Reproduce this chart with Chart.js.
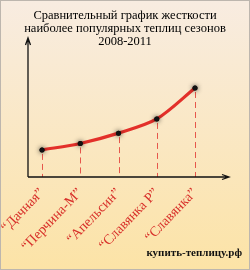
<!DOCTYPE html>
<html>
<head>
<meta charset="utf-8">
<script src="https://cdn.jsdelivr.net/npm/chart.js@4.4.0/dist/chart.umd.min.js"></script>
<style>
    html, body { margin: 0; padding: 0; background: #fff; }
    canvas { display: block; }
</style>
</head>
<body>
<canvas id="stiffness-chart" width="250" height="270"></canvas>
<script>
// --- DATA ---
const titleLines = ['Сравнительный график жесткости', 'наиболее популярных теплиц сезонов', '2008-2011'];
const categories = ['“Дачная”', '“Перчина-М”', '“Апельсин”', '“Славянка Р”', '“Славянка”'];
const stiffness = [21, 26, 34, 45, 69];
const watermark = 'купить-теплицу.рф';

const RED = '#e3302a';
const SERIF = "'Liberation Serif', serif";

// --- PLUGINS ---
const backdrop = {
    id: 'backdrop',
    beforeDraw(chart) {
        const { ctx, width, height } = chart;
        const g = ctx.createLinearGradient(0, 0, 0, height);
        g.addColorStop(0, '#f8ece1');
        g.addColorStop(1, '#fce3a6');
        ctx.save();
        ctx.fillStyle = g;
        ctx.fillRect(0, 0, width, height);
        ctx.strokeStyle = '#bdb6ae';
        ctx.lineWidth = 1;
        ctx.strokeRect(0.5, 0.5, width - 1, height - 1);
        ctx.restore();
    }
};

const dropLines = {
    id: 'dropLines',
    beforeDatasetsDraw(chart) {
        const { ctx, chartArea } = chart;
        const pts = chart.getDatasetMeta(0).data;
        ctx.save();
        ctx.strokeStyle = '#e6574c';
        ctx.lineWidth = 1;
        ctx.setLineDash([6, 4]);
        pts.forEach(p => {
            ctx.beginPath();
            ctx.moveTo(Math.round(p.x) + 0.5, p.y + 4);
            ctx.lineTo(Math.round(p.x) + 0.5, chartArea.bottom);
            ctx.stroke();
        });
        ctx.restore();
    }
};

const glowPoints = {
    id: 'glowPoints',
    afterDatasetsDraw(chart) {
        const { ctx } = chart;
        ctx.save();
        ctx.shadowColor = 'rgba(0,0,0,0.85)';
        ctx.shadowBlur = 5;
        chart.getDatasetMeta(0).data.forEach(p => p.draw(ctx));
        ctx.restore();
    }
};

const arrowAxes = {
    id: 'arrowAxes',
    afterDraw(chart) {
        const { ctx, chartArea } = chart;
        const x0 = chartArea.left - 14, y0 = chartArea.bottom;
        const yTop = 38, xEnd = chartArea.right + 34;
        ctx.save();
        ctx.strokeStyle = '#111';
        ctx.lineWidth = 1.3;
        ctx.beginPath();
        ctx.moveTo(x0, y0);
        ctx.lineTo(x0, yTop);
        ctx.moveTo(x0 - 2.5, yTop + 7);
        ctx.lineTo(x0, yTop);
        ctx.lineTo(x0 + 2.5, yTop + 7);
        ctx.moveTo(x0, y0);
        ctx.lineTo(xEnd, y0);
        ctx.moveTo(xEnd - 7, y0 - 2.5);
        ctx.lineTo(xEnd, y0);
        ctx.lineTo(xEnd - 7, y0 + 2.5);
        ctx.stroke();

        ctx.fillStyle = '#111';
        ctx.font = 'bold 11px ' + SERIF;
        ctx.textAlign = 'right';
        ctx.textBaseline = 'middle';
        ctx.fillText(watermark, chart.width - 8, 253);
        ctx.restore();
    }
};

// --- CHART ---
const ctx = document.getElementById('stiffness-chart').getContext('2d');
new Chart(ctx, {
    type: 'line',
    data: {
        labels: categories,
        datasets: [{
            data: stiffness,
            borderColor: RED,
            borderWidth: 3.2,
            tension: 0.3,
            pointRadius: 2.5,
            pointBackgroundColor: '#111',
            pointBorderWidth: 0
        }]
    },
    options: {
        responsive: false,
        animation: false,
        layout: { padding: 0 },
        scales: {
            x: {
                grid: { display: false },
                border: { display: false },
                ticks: {
                    color: '#d8302a',
                    font: { family: SERIF, size: 14 },
                    minRotation: 46,
                    maxRotation: 46,
                    autoSkip: false,
                    padding: 0
                },
                // room for the arrowed axes on both sides
                afterFit(axis) { axis.height = 93; axis.paddingLeft = 42; axis.paddingRight = 55; }
            },
            y: { display: false, min: 0, max: 100 }
        },
        plugins: {
            legend: { display: false },
            tooltip: { enabled: false },
            title: {
                display: true,
                text: titleLines,
                color: '#000',
                font: { family: SERIF, size: 12.5, weight: 'normal', lineHeight: 1.04 },
                padding: { top: 9, bottom: 0 }
            }
        }
    },
    plugins: [backdrop, dropLines, glowPoints, arrowAxes]
});
</script>
</body>
</html>
